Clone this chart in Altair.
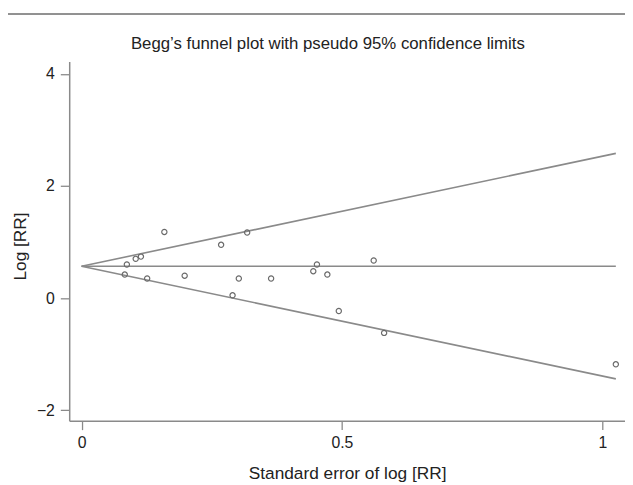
import altair as alt
import pandas as pd

# Study points: standard error of log RR, log RR
se = [0.159, 0.318, 0.268, 0.104, 0.114, 0.087, 0.083, 0.126, 0.198, 0.302,
      0.364, 0.452, 0.445, 0.472, 0.290, 0.494, 0.561, 0.581, 1.026]
logrr = [1.18, 1.17, 0.95, 0.70, 0.74, 0.60, 0.42, 0.35, 0.40, 0.35,
         0.35, 0.60, 0.48, 0.42, 0.05, -0.23, 0.67, -0.62, -1.18]

# Funnel lines (endpoints)
line_se = [0.0, 1.026]
upper = [0.568, 2.58]
center = [0.568, 0.568]
lower = [0.568, -1.44]

x_ticks = [0, 0.5, 1]
y_ticks = [-2, 0, 2, 4]

title_text = "Begg\u2019s funnel plot with pseudo 95% confidence limits"

pts = pd.DataFrame({"se": se, "logrr": logrr})
lines = pd.DataFrame({
    "se": line_se * 3,
    "val": upper + center + lower,
    "line": ["upper"] * 2 + ["center"] * 2 + ["lower"] * 2,
})
title_df = pd.DataFrame({"t": [title_text]})

FONT = "Liberation Sans"
GREY = "#8a8a8a"

xscale = alt.Scale(domain=[-0.0237, 1.0436], nice=False, zero=False)
yscale = alt.Scale(domain=[-2.186, 4.22], nice=False, zero=False)

xaxis = alt.Axis(values=x_ticks, format=".1~f", title="Standard error of log [RR]",
                 grid=False, tickSize=9, labelPadding=5,
                 titleBaseline="alphabetic", titleY=59)
yaxis = alt.Axis(values=y_ticks, format="d", title="Log [RR]",
                 grid=False, tickSize=9, labelPadding=6,
                 titleBaseline="alphabetic", titleX=-44, titleY=187)

line_layer = alt.Chart(lines).mark_line(color=GREY, strokeWidth=1.6).encode(
    x=alt.X("se:Q", scale=xscale, axis=xaxis),
    y=alt.Y("val:Q", scale=yscale, axis=yaxis),
    detail="line:N",
)

pt_layer = alt.Chart(pts).mark_point(shape="circle", filled=False, size=28,
                                     strokeWidth=1.2, color="#6a6a6a", opacity=1).encode(
    x=alt.X("se:Q", scale=xscale),
    y=alt.Y("logrr:Q", scale=yscale),
)

top_rule = alt.Chart(title_df).mark_rule(color="#222222", strokeWidth=1).encode(
    x=alt.value(-70), x2=alt.value(563), y=alt.value(-48)
)

title_layer = alt.Chart(title_df).mark_text(
    font=FONT, fontSize=17, color="#222222", align="center", baseline="alphabetic"
).encode(
    x=alt.value(262), y=alt.value(-13), text="t:N"
)

chart = alt.layer(line_layer, pt_layer, top_rule, title_layer).properties(
    width=563,
    height=364,
    padding={"left": 62, "top": 51, "right": 0, "bottom": 62},
    autosize=alt.AutoSizeParams(type="none"),
).configure(background="white").configure_view(stroke=None).configure_axis(
    domainColor=GREY, domainWidth=1.5, tickColor=GREY, tickWidth=1.3,
    labelFont=FONT, labelFontSize=16, labelColor="#222222",
    titleFont=FONT, titleFontSize=17.5, titleFontWeight="normal", titleColor="#222222",
)

chart.save("out.html", embed_options={"renderer": "svg", "actions": False})
